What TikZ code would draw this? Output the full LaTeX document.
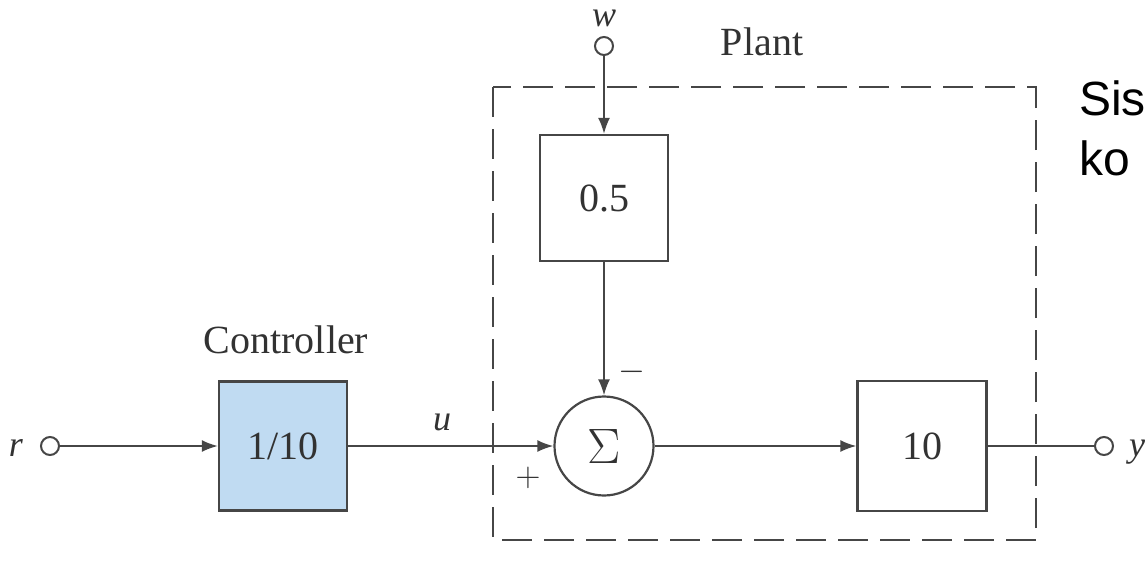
\documentclass[tikz,border=0pt]{standalone}
\usepackage{fontspec}
\setmainfont{Liberation Serif}
\newfontfamily\sansf{Liberation Sans}
\usetikzlibrary{arrows.meta}
\definecolor{ln}{RGB}{70,70,70}
\definecolor{tx}{RGB}{50,50,50}
\definecolor{ctrlfill}{RGB}{192,219,242}
\begin{document}
\begin{tikzpicture}[x=0.5pt,y=-0.5pt,
  line width=1pt, draw=ln, text=tx,
  blk/.style={draw=ln, line width=1.1pt, rectangle, inner sep=0pt, font=\fontsize{20}{22}\selectfont},
  port/.style={draw=ln, line width=1pt, circle, minimum size=9pt, inner sep=0pt, fill=white},
  sig/.style={draw=ln, line width=1pt, -{Latex[length=8pt,width=6pt]}},
  lbl/.style={font=\fontsize{20}{22}\selectfont},
  var/.style={font=\fontsize{18}{20}\selectfont\itshape},
  sgn/.style={font=\fontsize{18}{20}\selectfont}]
\useasboundingbox (0,0) rectangle (1146,568);
% plant dashed boundary
\draw[ln, line width=1pt, dash pattern=on 15pt off 6pt] (493,87) rectangle (1036,540);
% nodes
\node[port] (w) at (604,46) {};
\node[var] (wl) at (604,18) {w};
\node[lbl] (plant) at (762,42) {Plant};
\node[blk, minimum width=64pt, minimum height=63pt] (g05) at (604,198) {0.5};
\node[draw=ln, line width=1.1pt, circle, minimum size=49.5pt, inner sep=0pt, font=\fontsize{26}{28}\selectfont] (sum) at (604,446) {$\Sigma$};
\node[blk, fill=ctrlfill, minimum width=64pt, minimum height=64.5pt] (ctrl) at (283,446) {1/10};
\node[lbl] (ctrll) at (286,340) {Controller};
\node[port] (r) at (50,446) {};
\node[var] (rl) at (16,448) {r};
\node[var] (ul) at (442,422) {u};
\node[blk, minimum width=64.5pt, minimum height=65pt] (g10) at (922,446) {10};
\node[port] (y) at (1104,446) {};
\node[var, anchor=west, inner sep=0pt] (yl) at (1128,452) {y};
\node[sgn] (minus) at (632,372) {$-$};
\node[sgn] (plus) at (528,478) {$+$};
% connectors
\draw[sig] (w) -- (g05);
\draw[sig] (g05) -- (sum);
\draw[sig] (r) -- (ctrl);
\draw[sig] (ctrl) -- (sum);
\draw[sig] (sum) -- (g10);
\draw (g10) -- (y);
% side text
\node[font=\sansf\fontsize{24}{28}\selectfont, text=black, anchor=base west, inner sep=0pt] (t1) at (1078,115) {Sis};
\node[font=\sansf\fontsize{24}{28}\selectfont, text=black, anchor=base west, inner sep=0pt] (t2) at (1078,175) {ko};
\end{tikzpicture}
\end{document}
